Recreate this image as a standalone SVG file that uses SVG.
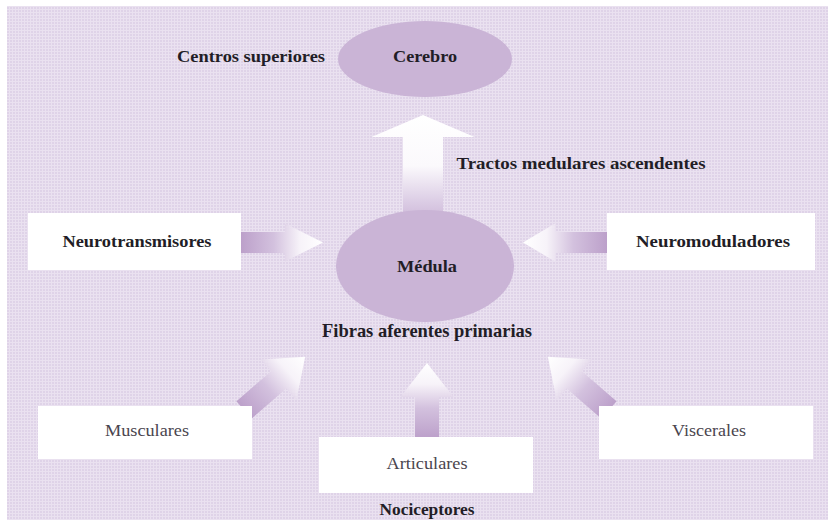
<svg xmlns="http://www.w3.org/2000/svg" width="828" height="520" viewBox="0 0 828 520">
  <defs>
    <pattern id="tex" width="3" height="3" patternUnits="userSpaceOnUse">
      <rect width="3" height="3" fill="#dfd3e8"/>
      <path d="M0 0.5H3M0.5 0V3" stroke="#eae1f0" stroke-width="1"/>
    </pattern>
    <linearGradient id="ag" x1="0" y1="0" x2="1" y2="0">
      <stop offset="0" stop-color="#bca0ca"/>
      <stop offset="0.4" stop-color="#d3c1de"/>
      <stop offset="0.72" stop-color="#f7f3f9"/>
      <stop offset="1" stop-color="#ffffff"/>
    </linearGradient>
    <linearGradient id="agUp" x1="0" y1="0" x2="1" y2="0">
      <stop offset="0" stop-color="#c7aed3"/>
      <stop offset="0.25" stop-color="#ddcfe6"/>
      <stop offset="0.55" stop-color="#fbf9fc"/>
      <stop offset="1" stop-color="#ffffff"/>
    </linearGradient>
    <style>
      .bold { font-family: "Liberation Serif", "DejaVu Serif", serif; font-weight: bold; fill: #221d26; text-anchor: middle; }
      .reg { font-family: "Liberation Serif", "DejaVu Serif", serif; fill: #4a454e; text-anchor: middle; }
      .box { fill: #ffffff; }
      .oval { fill: #cab4d6; }
    </style>
  </defs>

  <rect width="828" height="520" fill="#ffffff"/>
  <rect x="7" y="6" width="821" height="514" fill="url(#tex)"/>

  <g id="connectors">
    <path id="arrow-tractos" fill="url(#agUp)" transform="translate(423,228) rotate(-90)" d="M0,-20 H91 V-51.5 L113,0 L91,51.5 V20 H0 Z"/>
    <path id="arrow-neurotransmisores" fill="url(#ag)" transform="translate(241,242.5)" d="M0,-10.5 H44 V-19 L82,0 L44,19 V10.5 H0 Z"/>
    <path id="arrow-neuromoduladores" fill="url(#ag)" transform="translate(607,242.5) rotate(180)" d="M0,-10.5 H52 V-19 L84,0 L52,19 V10.5 H0 Z"/>
    <path id="arrow-musculares" fill="url(#ag)" transform="translate(244,410) rotate(-41)" d="M0,-11.5 H46 V-27 L81,0 L46,27 V11.5 H0 Z"/>
    <path id="arrow-viscerales" fill="url(#ag)" transform="translate(609,410) rotate(-139)" d="M0,-11.5 H46 V-27 L81,0 L46,27 V11.5 H0 Z"/>
    <path id="arrow-articulares" fill="url(#ag)" transform="translate(427,438) rotate(-90)" d="M0,-12 H41 V-26.5 L75,0 L41,26.5 V12 H0 Z"/>
  </g>

  <g id="cerebro">
    <ellipse class="oval" cx="425" cy="59" rx="87" ry="38"/>
    <text class="bold" x="425" y="62" font-size="16" textLength="64" lengthAdjust="spacingAndGlyphs">Cerebro</text>
  </g>
  <g id="centros-superiores">
    <text class="bold" x="251" y="62" font-size="16" textLength="148" lengthAdjust="spacingAndGlyphs">Centros superiores</text>
  </g>
  <g id="tractos-label">
    <text class="bold" x="581" y="169" font-size="17" textLength="249" lengthAdjust="spacingAndGlyphs">Tractos medulares ascendentes</text>
  </g>
  <g id="medula">
    <ellipse class="oval" cx="425" cy="266" rx="89" ry="56"/>
    <text class="bold" x="427" y="272" font-size="16" textLength="60" lengthAdjust="spacingAndGlyphs">Médula</text>
  </g>
  <g id="fibras-label">
    <text class="bold" x="427" y="337" font-size="19" textLength="210" lengthAdjust="spacingAndGlyphs">Fibras aferentes primarias</text>
  </g>
  <g id="neurotransmisores">
    <rect class="box" x="28" y="213" width="213" height="57"/>
    <text class="bold" x="137" y="247" font-size="17" textLength="149" lengthAdjust="spacingAndGlyphs">Neurotransmisores</text>
  </g>
  <g id="neuromoduladores">
    <rect class="box" x="607" y="213" width="208" height="57"/>
    <text class="bold" x="713" y="247" font-size="17" textLength="154" lengthAdjust="spacingAndGlyphs">Neuromoduladores</text>
  </g>
  <g id="musculares">
    <rect class="box" x="38" y="406" width="214" height="53"/>
    <text class="reg" x="147" y="436" font-size="16" textLength="84" lengthAdjust="spacingAndGlyphs">Musculares</text>
  </g>
  <g id="viscerales">
    <rect class="box" x="599" y="406" width="214" height="53"/>
    <text class="reg" x="709" y="436" font-size="16" textLength="74" lengthAdjust="spacingAndGlyphs">Viscerales</text>
  </g>
  <g id="articulares">
    <rect class="box" x="319" y="437" width="214" height="56"/>
    <text class="reg" x="427" y="469" font-size="17" textLength="81" lengthAdjust="spacingAndGlyphs">Articulares</text>
  </g>
  <g id="nociceptores">
    <text class="bold" x="427" y="515" font-size="17" textLength="95" lengthAdjust="spacingAndGlyphs">Nociceptores</text>
  </g>
</svg>
